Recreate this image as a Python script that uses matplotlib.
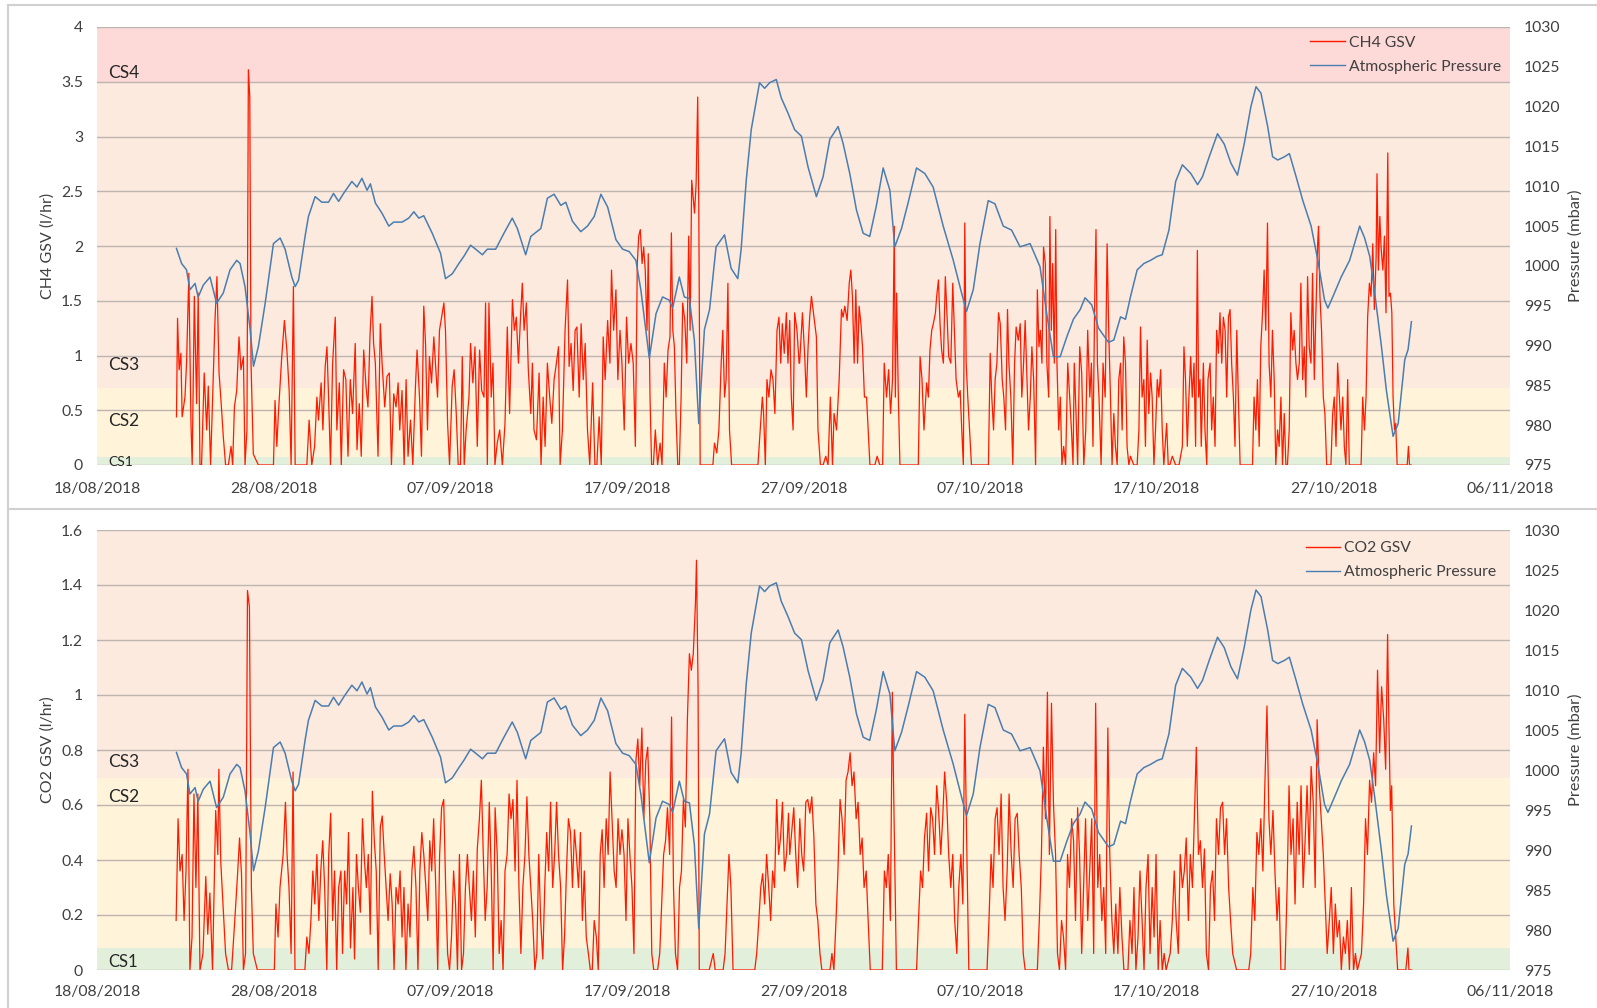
import datetime as dt
import matplotlib
matplotlib.use("Agg")
import matplotlib.pyplot as plt
import matplotlib.dates as mdates
import matplotlib.transforms as mtransforms
from matplotlib.lines import Line2D
from matplotlib.ticker import MultipleLocator, FuncFormatter

plt.rcParams['font.family'] = ['Lato', 'DejaVu Sans']

# time axis: days after 18/08/2018
start_date = dt.datetime(2018, 8, 18)
end_date = dt.datetime(2018, 11, 6)

# atmospheric pressure (mbar), same logger for both charts
p_day = [4.50, 4.79, 5.07, 5.26, 5.55, 5.73, 6.02, 6.40, 6.77, 7.15, 7.53, 7.91, 8.10, 8.38, 8.67, 8.86, 9.14, 9.52, 9.99, 10.37,
         10.65, 11.03, 11.22, 11.41, 11.78, 11.97, 12.35, 12.73, 13.11, 13.39, 13.68, 13.96, 14.43, 14.72, 15.00, 15.29, 15.48, 15.76, 16.14, 16.52,
         16.80, 17.27, 17.65, 17.94, 18.22, 18.50, 18.98, 19.45, 19.73, 20.11, 20.49, 20.77, 21.15, 21.44, 21.82, 22.10, 22.57, 23.04, 23.51, 23.80,
         24.27, 24.56, 25.13, 25.50, 25.88, 26.26, 26.54, 26.92, 27.39, 27.77, 28.15, 28.53, 28.91, 29.38, 29.76, 30.13, 30.51, 30.79, 31.27, 31.65,
         32.02, 32.40, 32.59, 32.97, 33.25, 33.54, 33.82, 34.07, 34.39, 34.68, 35.05, 35.53, 35.90, 36.28, 36.47, 36.76, 37.04, 37.51, 37.80, 38.08,
         38.46, 38.74, 39.12, 39.50, 39.88, 40.26, 40.73, 41.11, 41.49, 41.96, 42.24, 42.62, 43.00, 43.38, 43.75, 44.13, 44.51, 44.89, 45.17, 45.55,
         45.92, 46.40, 46.87, 47.34, 47.91, 48.48, 48.95, 49.23, 49.61, 49.99, 50.46, 50.84, 51.31, 51.78, 52.26, 52.83, 53.39, 53.77, 54.15, 54.53,
         54.91, 55.28, 55.66, 55.94, 56.32, 56.70, 57.27, 57.57, 57.95, 58.23, 58.51, 58.89, 59.27, 59.65, 60.03, 60.31, 60.69, 61.07, 61.45, 61.93,
         62.31, 62.59, 62.97, 63.44, 63.82, 64.20, 64.57, 64.95, 65.33, 65.62, 65.90, 66.28, 66.56, 66.85, 67.23, 67.51, 67.89, 68.27, 68.74, 69.12,
         69.50, 69.69, 70.06, 70.44, 70.92, 71.20, 71.49, 71.77, 72.06, 72.34, 72.72, 73.00, 73.38, 73.67, 74.04, 74.23, 74.42]
pressure = [1002.2, 1000.3, 999.5, 997.0, 997.8, 996.1, 997.6, 998.6, 995.3, 996.6, 999.5, 1000.7, 1000.3, 997.4, 992.0, 987.4, 989.9, 995.3, 1002.8, 1003.5,
            1002.1, 998.6, 997.4, 998.2, 1003.7, 1006.2, 1008.7, 1008.0, 1008.0, 1009.1, 1008.1, 1009.1, 1010.6, 1009.9, 1011.0, 1009.5, 1010.3, 1007.9, 1006.6, 1005.0,
            1005.5, 1005.5, 1006.0, 1006.8, 1006.0, 1006.3, 1004.1, 1001.6, 998.4, 999.0, 1000.3, 1001.2, 1002.6, 1002.1, 1001.4, 1002.1, 1002.1, 1004.1, 1006.0, 1004.7,
            1001.4, 1003.7, 1004.7, 1008.5, 1009.0, 1007.6, 1008.0, 1005.6, 1004.3, 1005.0, 1006.2, 1009.0, 1007.4, 1003.3, 1002.1, 1001.8, 1000.7, 997.0, 988.4, 994.0,
            996.1, 995.7, 994.7, 998.6, 996.1, 995.9, 990.7, 980.2, 992.0, 994.5, 1002.4, 1003.9, 999.7, 998.4, 1002.1, 1010.8, 1017.1, 1023.0, 1022.3, 1023.0,
            1023.4, 1021.1, 1019.2, 1017.1, 1016.3, 1012.4, 1008.7, 1011.2, 1015.9, 1017.5, 1015.4, 1011.6, 1007.0, 1004.1, 1003.7, 1007.6, 1012.3, 1009.5, 1002.4, 1004.7,
            1007.9, 1012.3, 1011.6, 1009.9, 1005.0, 1000.7, 996.6, 994.3, 997.0, 1002.8, 1008.2, 1007.8, 1005.0, 1004.5, 1002.4, 1002.8, 999.9, 994.0, 988.6, 988.6,
            991.1, 993.3, 994.5, 996.0, 995.1, 992.2, 990.4, 990.7, 993.6, 993.3, 996.1, 999.5, 1000.3, 1000.7, 1001.2, 1001.4, 1004.5, 1010.6, 1012.7, 1011.6,
            1010.2, 1011.2, 1013.7, 1016.6, 1015.3, 1012.9, 1011.4, 1015.3, 1020.0, 1022.5, 1021.7, 1017.5, 1013.7, 1013.3, 1013.7, 1014.1, 1011.2, 1008.2, 1005.0, 1000.7,
            995.7, 994.7, 996.6, 998.6, 1000.7, 1002.8, 1005.0, 1003.5, 1001.2, 996.6, 989.9, 984.4, 978.6, 980.2, 988.2, 989.5, 993.0]

# CH4 gas screening value (l/hr)
ch4_day = [4.50, 4.56, 4.65, 4.75, 4.82, 4.98, 5.07, 5.20, 5.32, 5.39, 5.51, 5.64, 5.73, 5.83, 5.92, 6.07, 6.21, 6.30, 6.43, 6.58,
           6.68, 6.79, 6.91, 7.02, 7.15, 7.28, 7.44, 7.59, 7.68, 7.78, 7.91, 8.04, 8.15, 8.29, 8.38, 8.49, 8.57, 8.65, 8.72, 8.85,
           8.99, 9.14, 9.99, 10.08, 10.18, 10.27, 10.46, 10.61, 10.75, 10.88, 10.99, 11.12, 11.22, 11.88, 12.01, 12.16, 12.32, 12.45, 12.54, 12.69,
           12.79, 12.92, 13.02, 13.11, 13.22, 13.34, 13.49, 13.58, 13.72, 13.83, 13.96, 14.09, 14.21, 14.34, 14.47, 14.62, 14.72, 14.85, 14.96, 15.10,
           15.23, 15.34, 15.46, 15.57, 15.66, 15.76, 15.91, 16.04, 16.14, 16.29, 16.42, 16.55, 16.67, 16.80, 16.93, 17.05, 17.14, 17.27, 17.39, 17.50,
           17.61, 17.75, 17.88, 18.03, 18.12, 18.26, 18.37, 18.50, 18.60, 18.71, 18.82, 18.94, 19.07, 19.16, 19.28, 19.39, 19.51, 19.64, 19.73, 19.85,
           19.96, 20.11, 20.22, 20.34, 20.45, 20.58, 20.68, 20.79, 20.90, 21.06, 21.15, 21.28, 21.40, 21.53, 21.66, 21.78, 21.91, 22.00,
           22.10, 22.19, 22.32, 22.42, 22.53, 22.66, 22.80, 22.95, 23.10, 23.23, 23.36, 23.52, 23.63, 23.74, 23.86, 23.99, 24.08, 24.18, 24.31, 24.42,
           24.56, 24.65, 24.74, 24.88, 25.03, 25.14, 25.26, 25.37, 25.50, 25.63, 25.75, 25.88, 26.01, 26.13, 26.22, 26.35, 26.50, 26.64, 26.73, 26.84,
           26.96, 27.07, 27.17, 27.30, 27.41, 27.53, 27.64, 27.77, 27.90, 28.06, 28.19, 28.30, 28.43, 28.55, 28.66, 28.77, 28.91, 29.04, 29.13, 29.25,
           29.38, 29.49, 29.61, 29.72, 29.85, 29.98, 30.10, 30.23, 30.36, 30.48, 30.59, 30.67, 30.76, 30.86, 30.95, 31.04, 31.14, 31.21, 31.31, 31.40,
           31.50, 31.61, 31.74, 31.88, 31.99, 32.12, 32.22, 32.33, 32.44, 32.52, 32.60, 32.69, 32.78, 32.88, 32.97, 33.07, 33.16, 33.28, 33.39, 33.50,
           33.58, 33.67, 33.75, 33.83, 33.92, 34.01, 34.07, 34.15, 34.87, 34.96, 35.09, 35.21, 35.34, 35.43, 35.53, 35.62, 35.72, 35.81, 35.93, 36.04,
           37.42, 37.55, 37.67, 37.74, 37.84, 37.93, 38.04, 38.16, 38.27, 38.38, 38.50, 38.61, 38.71, 38.80, 38.91, 39.03, 39.12, 39.22, 39.31, 39.41,
           39.50, 39.63, 39.75,
           39.78, 39.94, 40.07, 40.16, 40.26, 40.35, 40.45, 40.54, 40.64, 40.73, 40.82, 40.96, 41.11, 41.26, 41.39, 41.52, 41.64, 41.73, 41.87, 42.02,
           42.15, 42.24, 42.34, 42.47, 42.59, 42.68, 42.77, 42.87, 42.96, 43.06, 43.15, 43.25, 43.34, 43.45, 43.57, 43.66, 43.76, 43.85, 44.04, 44.17,
           44.32, 44.48, 44.57, 44.70, 44.82, 44.93, 45.04, 45.14, 45.20, 45.27, 45.37, 45.46, 46.50, 46.60, 46.71, 46.82, 46.97, 47.07, 47.16, 47.26,
           47.35, 47.47, 47.54, 47.64, 47.73, 47.82, 47.92, 48.03, 48.13, 48.22, 48.34, 48.45, 48.54, 48.64, 48.77, 48.87, 48.96, 49.05, 49.13, 49.21,
           49.30, 49.40, 49.51, 50.47, 50.57, 50.66, 50.76, 50.85, 50.95, 51.04, 51.14, 51.25, 51.34, 51.44, 51.55, 51.63, 51.74, 51.85, 51.95, 52.04,
           52.16, 52.27, 52.36, 52.46, 52.55, 52.65, 52.74, 52.84, 52.93, 53.03, 53.14, 53.24, 53.33, 53.41, 53.50, 53.59, 53.69, 53.78, 53.88, 53.95,
           54.03, 54.11, 54.20, 54.28, 54.35, 54.45, 54.54, 54.63, 54.73, 54.84, 54.96, 55.07, 55.17, 55.26, 55.33, 55.43, 55.52, 55.64, 55.75, 55.87,
           55.98, 56.09, 56.21, 56.30, 56.39, 56.49, 56.56, 56.64, 56.73, 56.85, 56.96, 57.08, 57.19, 57.28,
           57.38, 57.47, 57.57, 57.66, 57.76, 57.85, 57.95, 58.04, 58.13, 58.23, 58.32, 58.42, 58.51, 58.70, 58.89, 58.99, 59.08, 59.17, 59.27, 59.36,
           59.46, 59.55, 59.65, 59.74, 59.84, 59.93, 60.03, 60.12, 60.22, 60.31, 60.40, 60.56, 60.65, 60.74, 60.88, 61.07, 61.26, 61.45, 61.54, 61.63,
           61.73, 61.82, 61.92, 62.01, 62.11, 62.20, 62.30, 62.37, 62.45, 62.52, 62.64, 62.73, 62.83, 62.90, 63.02, 63.11, 63.20, 63.30, 63.39, 63.49,
           63.58, 63.68, 63.77, 63.87, 63.96, 64.06, 64.15, 64.24, 64.34, 64.43, 64.53, 64.62, 64.72, 65.42, 65.51, 65.61, 65.70, 65.80, 65.89, 65.99,
           66.08, 66.17, 66.27, 66.36, 66.46, 66.55, 66.65, 66.74, 66.84, 66.93, 67.03, 67.12, 67.22, 67.31, 67.40, 67.50, 67.59, 67.69, 67.78, 67.88,
           67.97, 68.07, 68.16, 68.26, 68.35, 68.44, 68.54, 68.63, 68.73, 68.82, 68.92, 69.01, 69.11, 69.16, 69.24, 69.33, 69.43, 69.52, 69.62, 69.86,
           69.96, 70.05, 70.15, 70.24, 70.34, 70.43, 70.53, 70.62, 70.71, 70.81, 70.90, 71.57, 71.66, 71.76, 71.85, 71.94, 72.04, 72.13, 72.23, 72.32,
           72.42, 72.47, 72.55, 72.63, 72.70, 72.80, 72.89, 72.98, 73.08, 73.15, 73.23, 73.31, 73.38, 73.46, 73.53, 73.61, 73.74, 74.02, 74.18, 74.25, 74.31, 74.40]
ch4_gsv = [0.44, 1.34, 0.87, 1.02, 0.44, 0.62, 0.93, 1.75, 0.38, 0.0, 1.54, 0.56, 1.57, 0.0, 0.0, 0.84, 0.32, 0.72, 0.0, 0.78,
           1.32, 1.72, 0.84, 0.59, 0.26, 0.0, 0.0, 0.17, 0.0, 0.53, 0.68, 1.17, 0.87, 0.99, 0.0, 0.32, 3.61, 3.36, 0.93, 0.10,
           0.05, 0.0, 0.0, 0.59, 0.17, 0.47, 0.99, 1.32, 1.05, 0.68, 0.0, 1.63, 0.0, 0.0, 0.41, 0.0, 0.17, 0.62, 0.41, 0.75,
           0.32, 0.90, 1.08, 0.62, 0.0, 0.93, 1.35, 0.32, 0.75, 0.0, 0.87, 0.78, 0.08, 0.78, 0.47, 1.11, 0.14, 0.56, 0.08, 1.05,
           0.72, 0.53, 1.20, 1.54, 1.11, 0.93, 0.08, 1.29, 0.93, 0.53, 0.81, 0.84, 0.0, 0.65, 0.53, 0.75, 0.32, 0.68, 0.0, 0.78,
           0.08, 0.41, 0.0, 0.72, 1.05, 0.62, 0.08, 1.45, 1.11, 0.32, 0.99, 0.75, 1.17, 0.93, 0.62, 1.23, 1.35, 1.48, 1.23, 0.38,
           0.0, 0.72, 0.87, 0.47, 0.0, 0.0, 0.99, 0.0, 0.32, 0.62, 1.11, 0.75, 1.08, 0.17, 1.05, 0.68, 0.62, 1.48,
           0.0, 1.48, 0.62, 0.93, 0.0, 0.20, 0.32, 0.0, 0.38, 1.26, 0.47, 1.51, 1.23, 1.35, 0.93, 1.39, 1.66, 1.23, 1.48, 0.87,
           0.47, 0.93, 0.32, 0.23, 0.84, 0.0, 0.62, 0.17, 0.93, 0.62, 0.38, 0.78, 0.93, 1.08, 0.0, 0.32, 1.23, 1.69, 0.90, 1.11,
           0.68, 1.23, 1.26, 0.62, 1.29, 0.78, 1.11, 0.32, 0.0, 0.75, 0.0, 0.0, 0.44, 0.0, 1.17, 0.78, 1.32, 0.93, 1.78, 1.23,
           1.60, 0.78, 1.23, 0.93, 0.32, 1.35, 0.93, 1.11, 0.93, 0.17, 1.84, 2.09, 2.15, 1.84, 1.99, 1.78, 1.23, 1.93, 0.62, 0.0,
           0.0, 0.32, 0.0, 0.20, 0.0, 0.93, 0.62, 1.05, 1.17, 2.12, 1.23, 1.08, 0.47, 0.0, 0.0, 0.62, 1.48, 1.32, 0.93, 2.09,
           1.23, 2.60, 2.45, 2.30, 2.57, 3.36, 2.39, 0.0, 0.0, 0.20, 0.11, 0.32, 0.93, 1.23, 0.62, 0.78, 1.66, 0.32, 0.0, 0.0,
           0.0, 0.32, 0.62, 0.47, 0.0, 0.78, 0.62, 0.87, 0.78, 0.47, 1.23, 1.35, 0.93, 1.29, 1.02, 1.39, 0.93, 1.32, 0.62, 0.32,
           1.39, 1.23, 0.93,
           0.93, 1.39, 0.99, 0.62, 1.08, 1.35, 1.54, 1.42, 1.29, 1.17, 0.32, 0.0, 0.0, 0.08, 0.0, 0.62, 0.0, 0.47, 0.32, 0.78,
           1.42, 1.35, 1.45, 1.32, 1.66, 1.78, 1.54, 0.93, 1.60, 0.93, 1.45, 1.29, 1.08, 0.62, 0.62, 0.32, 0.0, 0.0, 0.0, 0.08,
           0.0, 0.0, 0.93, 0.62, 0.87, 0.47, 0.78, 2.18, 0.62, 1.57, 0.62, 0.0, 0.0, 0.99, 0.78, 0.32, 0.75, 0.62, 1.05, 1.23,
           1.29, 1.39, 1.54, 1.69, 1.29, 1.05, 0.93, 1.72, 1.35, 0.99, 0.93, 1.66, 1.23, 0.78, 0.62, 0.68, 0.32, 0.0, 2.21, 0.93,
           0.62, 0.32, 0.0, 0.0, 1.02, 0.62, 0.32, 0.78, 0.93, 1.39, 1.29, 0.78, 0.62, 0.32, 1.42, 0.93, 0.62, 0.0, 0.93, 1.26,
           1.14, 1.29, 0.62, 0.93, 1.32, 0.78, 0.32, 0.62, 1.08, 0.78, 0.0, 1.60, 1.08, 1.23, 0.93, 1.99, 1.84, 0.93, 0.62, 2.27,
           1.23, 1.84, 0.93, 2.15, 0.93, 0.32, 0.62, 0.0, 0.17, 0.0, 0.93, 0.62, 0.32, 0.0, 0.93, 0.47, 0.0, 1.08, 0.84, 0.0,
           0.32, 1.23, 0.62, 0.93, 0.17, 1.54, 2.15, 0.93, 0.62, 0.0, 0.93, 0.62, 2.02, 1.23,
           0.62, 0.0, 0.47, 0.17, 0.0, 0.78, 0.93, 0.32, 1.17, 0.93, 0.17, 0.0, 0.08, 0.0, 0.0, 0.32, 1.26, 0.62, 0.78, 0.17,
           1.14, 0.47, 0.84, 0.62, 0.0, 0.32, 0.78, 0.62, 0.87, 0.32, 0.0, 0.38, 0.0, 0.0, 0.08, 0.0, 0.0, 0.17, 1.08, 0.78,
           0.17, 0.62, 0.99, 0.62, 0.93, 0.17, 1.96, 0.62, 0.78, 0.17, 0.93, 0.32, 0.0, 0.78, 0.93, 0.32, 0.62, 0.17, 1.23, 1.02,
           1.39, 0.93, 1.35, 1.23, 0.62, 1.35, 1.42, 0.93, 0.62, 0.17, 1.23, 0.62, 0.0, 0.0, 0.62, 0.32, 0.78, 0.17, 1.08, 1.39,
           1.78, 1.23, 2.21, 0.93, 0.62, 1.23, 0.78, 0.0, 0.32, 0.17, 0.62, 0.0, 0.47, 0.0, 0.0, 0.32, 1.39, 1.05, 1.23, 0.93,
           0.78, 0.93, 1.66, 0.78, 1.08, 0.62, 1.72, 1.08, 0.93, 1.75, 0.78, 1.39, 2.02, 2.18, 1.54, 1.23, 0.62, 0.47, 0.0, 0.0,
           0.47, 0.62, 0.17, 0.93, 0.62, 0.32, 0.62, 0.17, 0.0, 0.78, 0.0, 0.0, 0.62, 0.32, 0.62, 1.35, 1.66, 1.54, 2.02, 1.42,
           1.90, 2.66, 1.78, 2.27, 1.99, 1.78, 2.09, 1.39, 2.85, 1.54, 1.57, 1.39, 0.62, 0.32, 0.38, 0.0, 0.0, 0.0, 0.0, 0.17, 0.0, 0.0]

# CO2 gas screening value (l/hr)
co2_day = [4.48, 4.59, 4.70, 4.82, 4.93, 5.04, 5.15, 5.26, 5.38, 5.49, 5.60, 5.71, 5.83, 6.00, 6.16, 6.27, 6.39, 6.54, 6.72, 6.84,
           6.90, 7.01, 7.13, 7.28, 7.44, 7.62, 7.80, 7.96, 8.07, 8.18, 8.29, 8.41, 8.52, 8.63, 8.74, 8.85, 9.08, 9.64, 10.04, 10.13,
           10.25, 10.36, 10.54, 10.67, 10.76, 10.87, 10.99, 11.10, 11.21, 11.44, 11.77, 11.88, 12.00, 12.11, 12.22, 12.33, 12.45, 12.56, 12.67, 12.78,
           12.89, 13.01, 13.12, 13.23, 13.34, 13.45, 13.57, 13.68, 13.81, 13.90, 14.02, 14.13, 14.24, 14.35, 14.49, 14.58, 14.69, 14.80, 14.91, 15.03,
           15.14, 15.25, 15.36, 15.47, 15.59, 15.70, 15.81, 15.92, 16.04, 16.15, 16.26, 16.37, 16.48, 16.60, 16.71, 16.82, 16.93, 17.05, 17.16, 17.27,
           17.38, 17.49, 17.61, 17.72, 17.83, 17.94, 18.06, 18.17, 18.28, 18.39, 18.50, 18.62, 18.73, 18.84, 18.95, 19.06, 19.18, 19.29, 19.40, 19.51,
           19.63, 19.74, 19.85, 19.96, 20.07, 20.19, 20.30, 20.41, 20.52, 20.64, 20.75, 20.86, 20.97, 21.08, 21.20, 21.31, 21.42, 21.53, 21.65, 21.76,
           21.87, 21.98, 22.09, 22.21, 22.32, 22.43, 22.54, 22.66, 22.77, 22.88, 22.99, 23.10, 23.22, 23.33, 23.44, 23.55, 23.67, 23.78, 23.89, 24.00,
           24.11, 24.23, 24.34, 24.45, 24.56, 24.67, 24.79, 24.90, 25.01, 25.12, 25.24, 25.35, 25.46, 25.57, 25.68, 25.80, 25.91, 26.02, 26.13, 26.25,
           26.36, 26.47, 26.58, 26.69, 26.81, 26.92, 27.03, 27.14, 27.26, 27.37, 27.48, 27.59, 27.70, 27.82, 27.93, 28.04, 28.15, 28.27, 28.38, 28.49,
           28.60, 28.71, 28.83, 28.94, 29.05, 29.16, 29.28, 29.39, 29.50, 29.61, 29.72, 29.84, 29.95, 30.06, 30.17, 30.29, 30.40, 30.51, 30.62, 30.73,
           30.85, 30.96, 31.07, 31.18, 31.30, 31.41, 31.52, 31.74, 31.86, 31.97, 32.08, 32.19, 32.30, 32.42, 32.53, 32.64, 32.75, 32.87, 32.98, 33.09,
           33.20, 33.31, 33.43, 33.54, 33.65, 33.76, 33.88, 33.94, 34.03, 34.10, 34.32, 34.66, 34.89, 35.00, 35.22, 35.45, 35.56, 35.67, 35.78, 35.89,
           36.01, 36.34, 36.68, 37.02, 37.24, 37.35, 37.47, 37.58, 37.69, 37.80, 37.91, 38.03, 38.14, 38.25, 38.36, 38.48, 38.59, 38.70, 38.81, 38.92,
           39.04, 39.15,
           39.22, 39.45, 39.56, 39.67, 39.79, 39.90, 40.01, 40.13, 40.24, 40.36, 40.47, 40.59, 40.70, 40.81, 40.93, 41.04, 41.27, 41.50, 41.61, 41.72,
           41.84, 41.95, 42.07, 42.18, 42.30, 42.41, 42.52, 42.64, 42.75, 42.86, 42.98, 43.09, 43.21, 43.32, 43.43, 43.55, 43.66, 43.78, 44.00, 44.23,
           44.46, 44.58, 44.69, 44.80, 44.92, 45.03, 45.10, 45.19, 45.26, 45.49, 45.83, 46.17, 46.40, 46.51, 46.63, 46.74, 46.85, 46.97, 47.08, 47.20,
           47.31, 47.42, 47.54, 47.65, 47.77, 47.88, 47.99, 48.11, 48.22, 48.34, 48.45, 48.56, 48.68, 48.79, 48.91, 49.02, 49.13, 49.25, 49.36, 49.59,
           49.93, 50.16, 50.39, 50.50, 50.62, 50.73, 50.85, 50.96, 51.07, 51.19, 51.30, 51.41, 51.53, 51.64, 51.76, 51.87, 51.98, 52.10, 52.21, 52.33,
           52.44, 52.55, 52.78, 53.01, 53.24, 53.35, 53.47, 53.58, 53.70, 53.81, 53.92, 54.04, 54.15, 54.27, 54.38, 54.49, 54.61, 54.72, 54.84, 54.95,
           55.06, 55.18, 55.29, 55.40, 55.52, 55.63, 55.75, 55.86, 55.97, 56.09, 56.20, 56.32, 56.43, 56.54, 56.66, 56.77, 56.89, 57.00, 57.11, 57.23,
           57.34, 57.46, 57.57, 57.68, 57.80, 57.91, 58.03, 58.14, 58.37, 58.48, 58.60, 58.71, 58.82, 58.94, 59.05, 59.17, 59.28, 59.39, 59.51, 59.62,
           59.74, 59.85, 59.96, 60.08, 60.19, 60.31, 60.42, 60.53, 60.76, 60.88, 60.99, 61.10, 61.22, 61.33, 61.45, 61.56, 61.67, 61.79, 61.90, 62.02,
           62.13, 62.24, 62.36, 62.47, 62.59, 62.70, 62.81, 62.93, 63.04, 63.16, 63.27, 63.38, 63.50, 63.61, 63.73, 63.84, 63.95, 64.07, 64.18, 64.30,
           64.52, 64.75, 64.98, 65.21, 65.32, 65.44, 65.55, 65.67, 65.78, 65.89, 66.01, 66.12, 66.24, 66.35, 66.46, 66.58, 66.69, 66.81, 66.92, 67.03,
           67.26, 67.38, 67.49, 67.60, 67.72, 67.83, 67.95, 68.06, 68.17, 68.29, 68.40, 68.51, 68.63, 68.74, 68.86, 68.97, 69.08, 69.20, 69.31, 69.43,
           69.54, 69.65, 69.77, 69.88, 70.00, 70.11, 70.22, 70.34, 70.45, 70.57, 70.68, 70.79, 70.91, 71.02, 71.14, 71.25, 71.36, 71.59, 71.71, 71.82,
           71.93, 72.05, 72.16, 72.28, 72.39, 72.50, 72.62, 72.73, 72.85, 72.96, 73.07, 73.14, 73.23, 73.30, 73.42, 73.53, 73.64, 73.87, 74.10, 74.22, 74.28, 74.44]
co2_gsv = [0.18, 0.55, 0.36, 0.42, 0.18, 0.36, 0.73, 0.0, 0.12, 0.64, 0.30, 0.64, 0.0, 0.06, 0.34, 0.13, 0.28, 0.0, 0.58, 0.42,
           0.73, 0.39, 0.24, 0.06, 0.0, 0.0, 0.18, 0.35, 0.48, 0.35, 0.0, 0.06, 1.38, 1.32, 0.30, 0.06, 0.0, 0.0, 0.0, 0.24,
           0.12, 0.30, 0.42, 0.61, 0.42, 0.30, 0.06, 0.72, 0.0, 0.0, 0.0, 0.12, 0.06, 0.18, 0.36, 0.24, 0.42, 0.18, 0.36, 0.47,
           0.30, 0.0, 0.42, 0.57, 0.18, 0.36, 0.0, 0.30, 0.36, 0.06, 0.36, 0.24, 0.50, 0.08, 0.30, 0.04, 0.42, 0.30, 0.21, 0.55,
           0.40, 0.30, 0.42, 0.13, 0.65, 0.47, 0.36, 0.0, 0.52, 0.56, 0.42, 0.30, 0.18, 0.35, 0.24, 0.0, 0.30, 0.24, 0.36, 0.12,
           0.30, 0.0, 0.24, 0.12, 0.36, 0.45, 0.30, 0.0, 0.36, 0.50, 0.42, 0.30, 0.18, 0.47, 0.36, 0.55, 0.30, 0.0, 0.42, 0.59,
           0.62, 0.30, 0.06, 0.0, 0.12, 0.36, 0.24, 0.0, 0.42, 0.0, 0.06, 0.30, 0.42, 0.30, 0.18, 0.36, 0.12, 0.44, 0.55, 0.69,
           0.42, 0.18, 0.30, 0.61, 0.36, 0.0, 0.59, 0.42, 0.06, 0.18, 0.0, 0.36, 0.42, 0.64, 0.55, 0.62, 0.36, 0.69, 0.30, 0.06,
           0.30, 0.42, 0.63, 0.42, 0.30, 0.18, 0.0, 0.06, 0.42, 0.18, 0.04, 0.30, 0.50, 0.36, 0.61, 0.30, 0.42, 0.61, 0.42, 0.30,
           0.0, 0.12, 0.36, 0.55, 0.50, 0.30, 0.51, 0.42, 0.30, 0.50, 0.18, 0.36, 0.12, 0.06, 0.0, 0.0, 0.18, 0.12, 0.0, 0.42,
           0.51, 0.30, 0.55, 0.42, 0.72, 0.55, 0.36, 0.30, 0.55, 0.42, 0.51, 0.42, 0.18, 0.55, 0.42, 0.30, 0.06, 0.76, 0.84, 0.67,
           0.88, 0.55, 0.76, 0.81, 0.55, 0.06, 0.0, 0.0, 0.06, 0.24, 0.42, 0.47, 0.59, 0.42, 0.92, 0.30, 0.06, 0.0, 0.30, 0.36,
           0.62, 0.52, 0.92, 1.15, 1.09, 1.15, 1.33, 1.49, 1.03, 0.0, 0.0, 0.0, 0.06, 0.0, 0.0, 0.0, 0.06, 0.24, 0.42, 0.30,
           0.0, 0.0, 0.0, 0.0, 0.0, 0.06, 0.18, 0.30, 0.35, 0.24, 0.42, 0.30, 0.18, 0.36, 0.30, 0.62, 0.42, 0.48, 0.61, 0.36,
           0.42, 0.57,
           0.42, 0.59, 0.42, 0.30, 0.55, 0.42, 0.36, 0.61, 0.62, 0.57, 0.63, 0.48, 0.24, 0.18, 0.06, 0.0, 0.0, 0.0, 0.06, 0.0,
           0.18, 0.36, 0.62, 0.55, 0.42, 0.69, 0.72, 0.79, 0.67, 0.72, 0.55, 0.61, 0.42, 0.48, 0.30, 0.36, 0.18, 0.0, 0.0, 0.0,
           0.0, 0.36, 0.30, 0.42, 0.18, 1.01, 0.67, 0.30, 0.0, 0.0, 0.0, 0.0, 0.0, 0.18, 0.36, 0.30, 0.48, 0.57, 0.36, 0.59,
           0.55, 0.42, 0.67, 0.58, 0.42, 0.55, 0.72, 0.61, 0.42, 0.30, 0.42, 0.18, 0.06, 0.30, 0.42, 0.24, 0.93, 0.42, 0.0, 0.0,
           0.0, 0.0, 0.0, 0.18, 0.42, 0.30, 0.55, 0.59, 0.42, 0.64, 0.30, 0.18, 0.36, 0.64, 0.42, 0.30, 0.55, 0.57, 0.42, 0.30,
           0.06, 0.0, 0.0, 0.0, 0.0, 0.18, 0.42, 0.81, 0.55, 1.01, 0.42, 0.97, 0.61, 0.42, 0.06, 0.0, 0.18, 0.12, 0.0, 0.42,
           0.30, 0.55, 0.47, 0.18, 0.59, 0.42, 0.06, 0.30, 0.55, 0.18, 0.36, 0.55, 0.06, 0.97, 0.30, 0.42, 0.18, 0.30, 0.06, 0.88,
           0.42, 0.18, 0.06, 0.24, 0.06, 0.30, 0.12, 0.0, 0.0, 0.18, 0.06, 0.30, 0.0, 0.12, 0.36, 0.18, 0.0, 0.30, 0.42, 0.06,
           0.30, 0.12, 0.42, 0.0, 0.18, 0.0, 0.06, 0.0, 0.06, 0.18, 0.36, 0.18, 0.06, 0.42, 0.30, 0.36, 0.48, 0.18, 0.42, 0.30,
           0.55, 0.81, 0.42, 0.47, 0.30, 0.44, 0.06, 0.0, 0.30, 0.36, 0.18, 0.55, 0.42, 0.59, 0.61, 0.42, 0.55, 0.30, 0.18, 0.06,
           0.0, 0.0, 0.0, 0.0, 0.06, 0.30, 0.18, 0.50, 0.42, 0.55, 0.36, 0.67, 0.96, 0.55, 0.42, 0.58, 0.36, 0.18, 0.30, 0.0,
           0.0, 0.30, 0.67, 0.42, 0.55, 0.24, 0.61, 0.42, 0.67, 0.30, 0.47, 0.67, 0.42, 0.74, 0.61, 0.30, 0.91, 0.67, 0.55, 0.42,
           0.24, 0.06, 0.18, 0.30, 0.06, 0.24, 0.12, 0.18, 0.0, 0.12, 0.06, 0.18, 0.0, 0.30, 0.0, 0.06, 0.0, 0.06, 0.24, 0.55,
           0.42, 0.69, 0.61, 0.79, 0.67, 1.09, 0.79, 1.03, 0.91, 0.73, 1.22, 0.91, 0.58, 0.67, 0.24, 0.12, 0.0, 0.0, 0.0, 0.08, 0.0, 0.0]

# characteristic situation bands (upper limits) and labels
ch4_bands = [0, 0.07, 0.7, 3.5, 4.0]
co2_bands = [0, 0.08, 0.7, 1.6]
ch4_cs = [('CS4', 3.58, 12.5), ('CS3', 0.91, 12.5), ('CS2', 0.40, 12.5), ('CS1', 0.03, 10)]
co2_cs = [('CS3', 0.757, 12.5), ('CS2', 0.63, 12.5), ('CS1', 0.03, 12)]

band_colors = ['#E2EFDA', '#FFF3DA', '#FCEADF', '#FDD9D7']
red = '#FF1A00'
blue = '#4A7DB0'
txt = '#404040'

W, H = 1597, 1008
fig = plt.figure(figsize=(W / 100, H / 100), dpi=100)


def to_dates(days):
    return [start_date + dt.timedelta(days=d) for d in days]


def panel(rect, days, vals, bands, ymax, ystep, ylabel, name, cs, leg_xy, xpad):
    ax = fig.add_axes(rect)
    for i in range(len(bands) - 1):
        ax.axhspan(bands[i], bands[i + 1], color=band_colors[i], lw=0, zorder=0)
    ax.plot(to_dates(days), vals, color=red, lw=0.9, zorder=2)
    ax.set_ylim(0, ymax)
    ax.yaxis.set_major_locator(MultipleLocator(ystep))
    ax.yaxis.set_major_formatter(FuncFormatter(lambda v, p: '%g' % round(v, 2)))
    ax.set_xlim(start_date, end_date)
    ax.set_xticks([start_date + dt.timedelta(days=10 * i) for i in range(9)])
    ax.xaxis.set_major_formatter(mdates.DateFormatter('%d/%m/%Y'))
    ax.set_axisbelow(True)
    ax.grid(axis='y', color='#BDB5B0', lw=1.0)
    for s in ax.spines.values():
        s.set_visible(False)
    ax.tick_params(length=0, labelsize=11.3, colors=txt)
    ax.tick_params(axis='x', pad=xpad)
    ax.tick_params(axis='y', pad=10)
    ax.set_ylabel(ylabel, fontsize=11.5, color=txt)
    ax.yaxis.set_label_coords(-0.030, 0.5)

    trans = mtransforms.blended_transform_factory(ax.transAxes, ax.transData)
    for label, y, fs in cs:
        ax.text(0.008, y, label, transform=trans, fontsize=fs, va='center', ha='left', color='#262626')

    ax2 = ax.twinx()
    ax2.plot(to_dates(p_day), pressure, color=blue, lw=1.1)
    ax2.set_ylim(975, 1030)
    ax2.set_yticks(range(975, 1031, 5))
    for s in ax2.spines.values():
        s.set_visible(False)
    ax2.tick_params(length=0, labelsize=11.3, colors=txt, pad=10)
    ax2.set_ylabel('Pressure (mbar)', fontsize=11.8, color=txt)
    ax2.yaxis.set_label_coords(1.041, 0.5)

    handles = [Line2D([], [], color=red, lw=1.0), Line2D([], [], color=blue, lw=1.0)]
    leg = ax2.legend(handles, [name, 'Atmospheric Pressure'], loc='upper left', bbox_to_anchor=leg_xy,
                     frameon=False, fontsize=11.3, handlelength=2.2, handletextpad=0.25,
                     labelspacing=0.65, borderpad=0, borderaxespad=0)
    for t in leg.get_texts():
        t.set_color(txt)
    return ax


panel([97 / W, 1 - 465 / H, 1413 / W, 438 / H], ch4_day, ch4_gsv, ch4_bands, 4, 0.5,
      'CH4 GSV (l/hr)', 'CH4 GSV', ch4_cs, (0.8585, 0.980), 12)
panel([97 / W, 1 - 970 / H, 1413 / W, 440 / H], co2_day, co2_gsv, co2_bands, 1.6, 0.2,
      'CO2 GSV (l/hr)', 'CO2 GSV', co2_cs, (0.8556, 0.975), 11)

# light chart-area borders
frame = '#D0D0D0'
for x0, y0, x1, y1 in [(8, 5, W, 5), (8, 509, W, 509), (8, 5, 8, H)]:
    fig.add_artist(Line2D([x0 / W, x1 / W], [1 - y0 / H, 1 - y1 / H], transform=fig.transFigure,
                          color=frame, lw=1.5))

fig.savefig('out.png', dpi=100)
